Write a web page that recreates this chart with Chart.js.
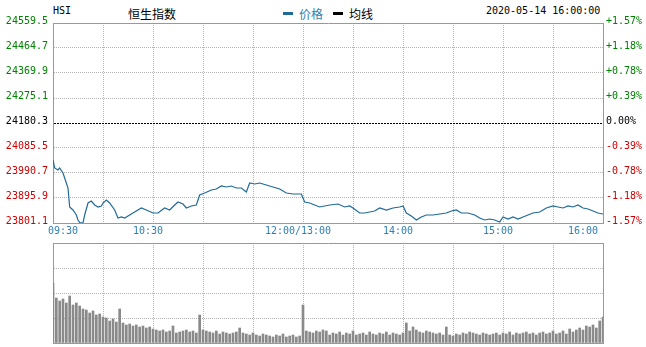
<!DOCTYPE html>
<html>
<head>
<meta charset="utf-8">
<script src="https://cdn.jsdelivr.net/npm/chart.js@4.4.0/dist/chart.umd.min.js"></script>
<style>
  body { margin: 0; background: #fff; width: 646px; height: 347px; position: relative; overflow: hidden; }
  .hd { position: absolute; top: 5px; line-height: 16px; white-space: nowrap; }
  .mono { font: 10px "DejaVu Sans Mono", monospace; color: #000; }
  .cjk { font: 12px "Noto Sans CJK SC", sans-serif; }
  .dash { position: absolute; top: 12px; width: 10px; height: 3px; }
  canvas { position: absolute; left: 0; }
</style>
</head>
<body>
<div class="hd mono" style="left:53px">HSI</div>
<div class="hd cjk" style="left:128px;color:#000">恒生指数</div>
<div class="dash" style="left:283px;background:#1f6a96"></div>
<div class="hd cjk" style="left:299px;color:#2f7fb3">价格</div>
<div class="dash" style="left:333px;background:#000"></div>
<div class="hd cjk" style="left:349px;color:#000">均线</div>
<div class="hd mono" style="left:486px">2020-05-14 16:00:00</div>

<canvas id="priceChart" width="646" height="240" style="top:0"></canvas>
<canvas id="volChart" width="646" height="107" style="top:240px"></canvas>

<script>
/* =========================
   DATA
========================= */

const preClose = 24180.3;

// left axis ticks (price) and right axis ticks (change vs previous close)
const priceTicks = [24559.5, 24464.7, 24369.9, 24275.1, 24180.3, 24085.5, 23990.7, 23895.9, 23801.1];
const pctLabels = ["+1.57%", "+1.18%", "+0.78%", "+0.39%", "0.00%", "-0.39%", "-0.78%", "-1.18%", "-1.57%"];

// session minutes (09:30 = 0, lunch break skipped, 16:00 = 330)
const timeTicks = [0, 30, 60, 90, 120, 150, 180, 210, 240, 270, 300, 330];
const timeLabels = ["09:30", "", "10:30", "", "", "12:00/13:00", "", "14:00", "", "15:00", "", "16:00"];

const priceTimes = [
  "09:30", "09:31", "09:33", "09:34", "09:36", "09:38", "09:39", "09:40", "09:42", "09:44",
  "09:45", "09:46", "09:48", "09:49", "09:51", "09:53", "09:55", "09:57", "09:59", "10:00",
  "10:02", "10:04", "10:07", "10:09", "10:11", "10:13", "10:16", "10:19", "10:23", "10:26",
  "10:30", "10:33", "10:37", "10:40", "10:43", "10:45", "10:48", "10:50", "10:53", "10:56",
  "10:58", "11:01", "11:05", "11:08", "11:11", "11:14", "11:17", "11:20", "11:23", "11:26",
  "11:28", "11:31", "11:34", "11:38", "11:42", "11:46", "11:50", "11:54", "11:59", "13:01",
  "13:04", "13:10", "13:16", "13:21", "13:25", "13:28", "13:30", "13:34", "13:37", "13:40",
  "13:43", "13:46", "13:50", "13:54", "13:58", "14:00", "14:02", "14:05", "14:08", "14:11",
  "14:14", "14:18", "14:22", "14:26", "14:29", "14:32", "14:35", "14:39", "14:43", "14:46",
  "14:49", "14:52", "14:55", "14:58", "15:00", "15:03", "15:06", "15:09", "15:12", "15:15",
  "15:18", "15:22", "15:26", "15:30", "15:33", "15:36", "15:39", "15:42", "15:45", "15:48",
  "15:51", "15:54", "15:57", "16:00"
];

const prices = [
  24040.0, 24009.7, 24002.1, 24009.7, 23990.7, 23952.8, 23933.8, 23861.8, 23850.4, 23831.4,
  23812.5, 23803.0, 23802.0, 23831.4, 23876.9, 23884.5, 23869.4, 23861.8, 23865.6, 23876.9,
  23888.3, 23876.9, 23850.4, 23820.1, 23823.9, 23820.1, 23831.4, 23842.8, 23858.0, 23850.4,
  23839.0, 23839.0, 23858.0, 23850.4, 23869.4, 23880.7, 23873.1, 23858.0, 23865.6, 23869.4,
  23907.3, 23914.9, 23926.2, 23930.0, 23941.4, 23937.6, 23941.4, 23933.8, 23933.8, 23918.7,
  23952.8, 23949.0, 23952.8, 23945.2, 23937.6, 23930.0, 23914.9, 23911.1, 23911.1, 23880.7,
  23876.9, 23861.8, 23869.4, 23873.1, 23861.8, 23865.6, 23858.0, 23839.0, 23839.0, 23842.8,
  23846.6, 23858.0, 23850.4, 23858.0, 23861.8, 23865.6, 23839.0, 23827.6, 23812.5, 23823.9,
  23831.4, 23831.4, 23835.2, 23839.0, 23846.6, 23850.4, 23839.0, 23839.0, 23831.4, 23820.1,
  23812.5, 23816.3, 23812.5, 23804.9, 23823.9, 23816.3, 23823.9, 23816.3, 23823.9, 23831.4,
  23839.0, 23842.8, 23858.0, 23865.6, 23861.8, 23858.0, 23865.6, 23861.8, 23869.4, 23858.0,
  23854.2, 23846.6, 23839.0, 23835.2
];

// volume per 2-minute bin, relative units (panel top = 100)
const volumes = [
  60, 45, 42, 44, 40, 47, 38, 40, 37, 34, 33, 30, 32, 28, 29, 26, 25, 22, 24, 21,
  34, 20, 18, 19, 17, 18, 16, 17, 15, 16, 14, 13, 12, 13, 11, 12, 17, 10, 11, 12,
  13, 11, 12, 10, 28, 13, 12, 11, 10, 12, 9, 11, 10, 9, 10, 11, 15, 10, 9, 8,
  10, 8, 7, 9, 8, 7, 6, 8, 7, 9, 6, 7, 8, 6, 7, 38, 12, 11, 10, 12,
  11, 13, 12, 8, 10, 9, 11, 8, 10, 9, 12, 8, 9, 10, 8, 11, 9, 8, 10, 9,
  11, 8, 10, 9, 8, 10, 20, 12, 16, 13, 11, 10, 12, 11, 10, 9, 10, 8, 16, 8,
  7, 9, 8, 10, 9, 11, 10, 9, 8, 10, 9, 8, 9, 10, 8, 10, 9, 11, 8, 10,
  9, 10, 11, 9, 10, 8, 10, 11, 9, 10, 12, 9, 10, 12, 9, 14, 11, 13, 15, 13,
  17, 16, 18, 15, 22, 26
];


/* =========================
   HELPERS
========================= */

const FRAME = "#999999";
const GRID = "#b4b4b4";
const monoFont = { family: "'DejaVu Sans Mono', monospace", size: 10 };

function sessionMinute(t) {
  const [h, m] = t.split(":").map(Number);
  const mins = h * 60 + m;
  return mins <= 720 ? mins - 570 : mins - 780 + 150;
}

function priceColor(v) {
  if (Math.abs(v - preClose) < 0.01) return "#000000";
  return v > preClose ? "#008000" : "#cc0000";
}

const setTicks = values => scale => {
  scale.ticks = values.map(v => ({ value: v }));
};

const timeGrid = {
  color: ctx => (ctx.index === 0 || ctx.index === timeTicks.length - 1) ? FRAME : GRID,
  drawTicks: false
};
const timeBorderDash = ctx => (ctx.index === 0 || ctx.index === timeTicks.length - 1) ? [] : [1, 1];


/* =========================
   PRICE CHART
========================= */

new Chart(document.getElementById("priceChart"), {
  type: "line",
  data: {
    datasets: [{
      label: "价格",
      data: priceTimes.map((t, i) => ({ x: sessionMinute(t), y: prices[i] })),
      borderColor: "#1f6a96",
      borderWidth: 1.2,
      pointRadius: 0,
      tension: 0
    }]
  },
  options: {
    responsive: false,
    animation: false,
    devicePixelRatio: 1,
    layout: { padding: { top: 23, left: 0, right: 0, bottom: 0 } },
    plugins: { legend: { display: false }, tooltip: { enabled: false } },
    scales: {
      x: {
        type: "linear",
        min: 0,
        max: 330,
        afterBuildTicks: setTicks(timeTicks),
        afterFit: s => { s.height = 17; },
        grid: timeGrid,
        border: { color: FRAME, dash: timeBorderDash },
        ticks: {
          autoSkip: false,
          maxRotation: 0,
          align: "inner",
          padding: 2,
          font: monoFont,
          color: "#2f7fb3",
          labelOffset: ctx => (ctx.index === 0 || ctx.index === timeTicks.length - 1) ? 0 : -5,
          callback: (v, i) => timeLabels[i]
        }
      },
      y: {
        position: "left",
        min: priceTicks[priceTicks.length - 1],
        max: priceTicks[0],
        afterBuildTicks: setTicks(priceTicks.slice().reverse()),
        afterFit: s => { s.width = 53; },
        grid: {
          drawTicks: false,
          color: ctx => {
            const v = ctx.tick.value;
            if (v === priceTicks[0] || v === priceTicks[priceTicks.length - 1]) return FRAME;
            return Math.abs(v - preClose) < 0.01 ? "#000000" : GRID;
          }
        },
        border: {
          color: FRAME,
          dash: ctx => {
            const v = ctx.tick.value;
            if (v === priceTicks[0] || v === priceTicks[priceTicks.length - 1]) return [];
            return Math.abs(v - preClose) < 0.01 ? [2, 1] : [1, 1];
          }
        },
        ticks: {
          padding: 5,
          labelOffset: -2,
          font: monoFont,
          color: ctx => priceColor(ctx.tick.value),
          callback: v => v.toFixed(1)
        }
      },
      yPct: {
        position: "right",
        min: priceTicks[priceTicks.length - 1],
        max: priceTicks[0],
        afterBuildTicks: setTicks(priceTicks.slice().reverse()),
        afterFit: s => { s.width = 43; },
        grid: { drawOnChartArea: false, drawTicks: false },
        border: { color: FRAME },
        ticks: {
          padding: 3,
          labelOffset: -2,
          font: monoFont,
          color: ctx => priceColor(ctx.tick.value),
          callback: v => pctLabels[priceTicks.findIndex(p => Math.abs(p - v) < 0.01)]
        }
      }
    }
  }
});


/* =========================
   VOLUME CHART
========================= */

new Chart(document.getElementById("volChart"), {
  type: "bar",
  data: {
    datasets: [{
      label: "成交量",
      data: volumes.map((v, i) => ({ x: i * 2, y: v })),
      backgroundColor: "#8a8a8a",
      barThickness: 2,
      grouped: false
    }]
  },
  options: {
    responsive: false,
    animation: false,
    devicePixelRatio: 1,
    layout: { padding: { top: 3, left: 0, right: 0, bottom: 4 } },
    plugins: { legend: { display: false }, tooltip: { enabled: false } },
    scales: {
      x: {
        type: "linear",
        offset: false,
        min: 0,
        max: 330,
        afterBuildTicks: setTicks(timeTicks),
        afterFit: s => { s.height = 0; },
        grid: { ...timeGrid, offset: false },
        border: { color: FRAME, dash: timeBorderDash },
        ticks: { display: false }
      },
      y: {
        position: "left",
        min: 0,
        max: 100,
        afterBuildTicks: setTicks([0, 25, 50, 75, 100]),
        afterFit: s => { s.width = 53; },
        grid: {
          drawTicks: false,
          color: ctx => (ctx.tick.value === 100 || ctx.tick.value === 0) ? FRAME : GRID
        },
        border: {
          color: FRAME,
          dash: ctx => (ctx.tick.value === 100 || ctx.tick.value === 0) ? [] : [1, 1]
        },
        ticks: { display: false }
      },
      yR: {
        position: "right",
        min: 0,
        max: 100,
        afterFit: s => { s.width = 43; },
        grid: { drawOnChartArea: false, drawTicks: false },
        border: { color: FRAME },
        ticks: { display: false }
      }
    }
  }
});
</script>
</body>
</html>
